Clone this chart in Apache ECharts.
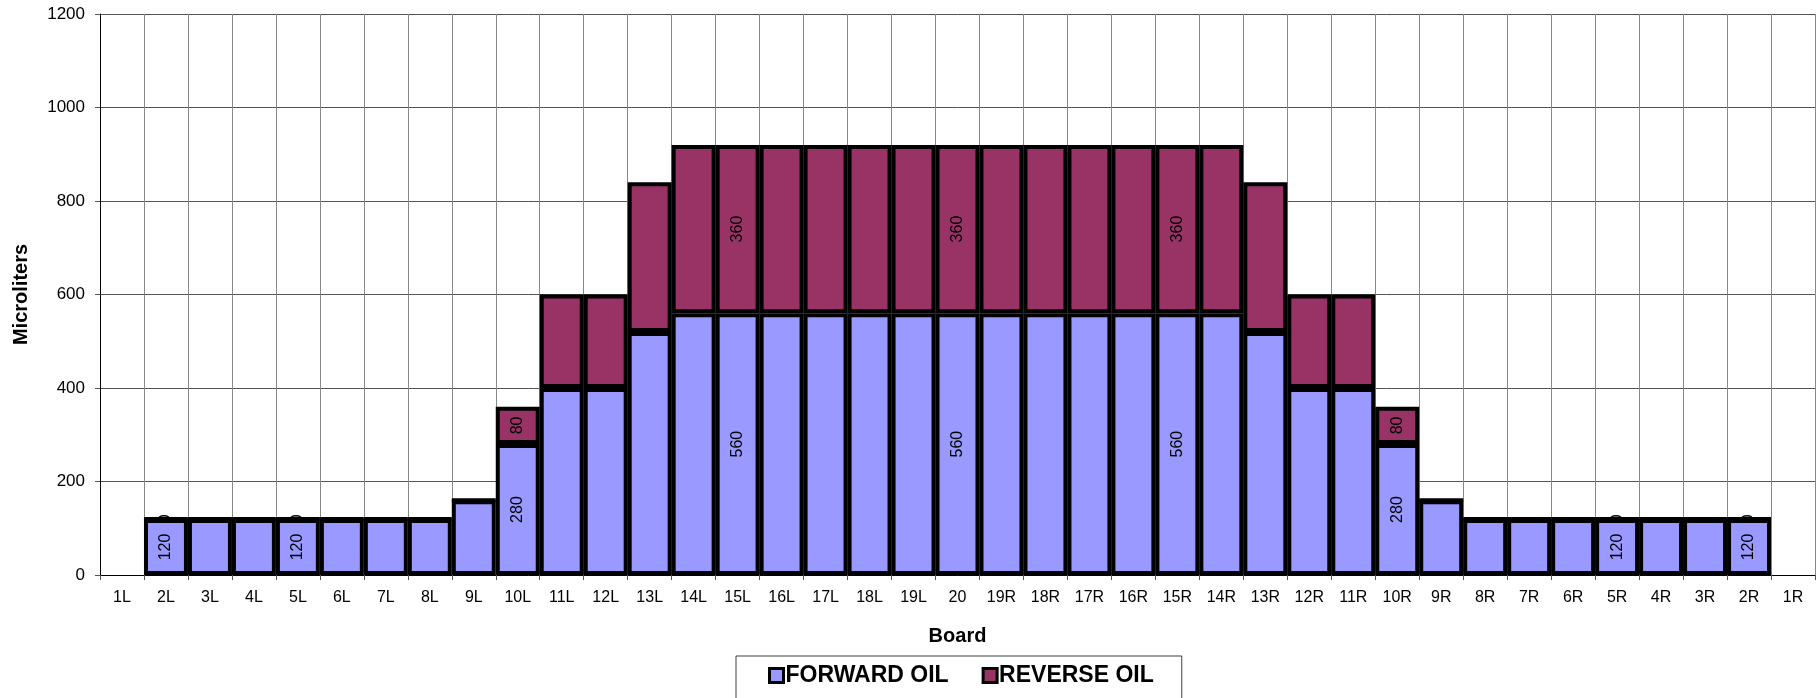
<!DOCTYPE html>
<html>
<head>
<meta charset="utf-8">
<script src="https://cdn.jsdelivr.net/npm/echarts@6/dist/echarts.min.js"></script>
<style>
html,body{margin:0;padding:0;background:#fff;}
#chart{width:1816px;height:698px;}
</style>
</head>
<body>
<div id="chart"></div>
<script>
const categories = ['1L','2L','3L','4L','5L','6L','7L','8L','9L','10L','11L','12L','13L','14L','15L','16L','17L','18L','19L','20','19R','18R','17R','16R','15R','14R','13R','12R','11R','10R','9R','8R','7R','6R','5R','4R','3R','2R','1R'];
const forwardOil = [null,120,120,120,120,120,120,120,160,280,400,400,520,560,560,560,560,560,560,560,560,560,560,560,560,560,520,400,400,280,160,120,120,120,120,120,120,120,null];
const reverseOil = [null,0,0,0,0,0,0,0,0,80,200,200,320,360,360,360,360,360,360,360,360,360,360,360,360,360,320,200,200,80,0,0,0,0,0,0,0,0,null];
const labeledCats = ['2L','5L','10L','15L','20','15R','10R','5R','2R'];
const yTicks = [0,200,400,600,800,1000,1200];

const FONT = '"Liberation Sans", Arial, sans-serif';

function withLabels(arr) {
  return arr.map((v, i) => ({
    value: v,
    label: { show: labeledCats.includes(categories[i]) && v !== null }
  }));
}

const labelStyle = {
  position: 'inside',
  rotate: 90,
  color: '#000',
  fontFamily: FONT,
  fontSize: 16
};

const chart = echarts.init(document.getElementById('chart'), null, {renderer: 'canvas'});
chart.setOption({
  animation: false,
  backgroundColor: '#fff',
  textStyle: { fontFamily: FONT },
  grid: { left: 100, right: 1, top: 14, bottom: 123, containLabel: false, outerBoundsMode: 'none' },
  legend: {
    left: 736,
    top: 656,
    padding: [8, 28, 14, 32],
    itemGap: 33,
    itemWidth: 14,
    itemHeight: 14,
    icon: 'rect',
    borderColor: '#404040',
    borderWidth: 1,
    itemStyle: { borderColor: '#000', borderWidth: 3 },
    textStyle: { fontFamily: FONT, fontSize: 23, fontWeight: 'bold', color: '#000', padding: [0,0,0,-3] },
    data: ['FORWARD OIL', 'REVERSE OIL']
  },
  xAxis: {
    type: 'category',
    data: categories,
    boundaryGap: true,
    name: 'Board',
    nameLocation: 'middle',
    nameGap: 51,
    nameTextStyle: { fontFamily: FONT, fontSize: 20, fontWeight: 'bold', color: '#000' },
    axisLine: { lineStyle: { color: '#000', width: 1 } },
    axisTick: { show: true, alignWithLabel: false, interval: 0, length: 5, lineStyle: { color: '#555' } },
    axisLabel: { interval: 0, color: '#000', fontFamily: FONT, fontSize: 16, margin: 15 },
    splitLine: { show: true, interval: 0, lineStyle: { color: '#888', width: 1 } }
  },
  yAxis: {
    type: 'value',
    min: yTicks[0],
    max: yTicks[yTicks.length - 1],
    interval: 200,
    name: 'Microliters',
    nameLocation: 'middle',
    nameGap: 69,
    nameTextStyle: { fontFamily: FONT, fontSize: 20, fontWeight: 'bold', color: '#000' },
    axisLine: { show: true, lineStyle: { color: '#000', width: 1 } },
    axisTick: { show: true, length: 5, lineStyle: { color: '#555' } },
    axisLabel: { color: '#000', fontFamily: FONT, fontSize: 17, margin: 15, formatter: v => String(v) },
    splitLine: { show: true, lineStyle: { color: '#555', width: 1 } }
  },
  series: [
    {
      name: 'FORWARD OIL',
      type: 'bar',
      stack: 'oil',
      barCategoryGap: '0%',
      data: withLabels(forwardOil),
      itemStyle: { color: '#9999FF', borderColor: '#000', borderWidth: 4 },
      label: labelStyle
    },
    {
      name: 'REVERSE OIL',
      type: 'bar',
      stack: 'oil',
      barCategoryGap: '0%',
      data: withLabels(reverseOil),
      itemStyle: { color: '#993366', borderColor: '#000', borderWidth: 4 },
      label: labelStyle
    }
  ]
});
</script>
</body>
</html>
